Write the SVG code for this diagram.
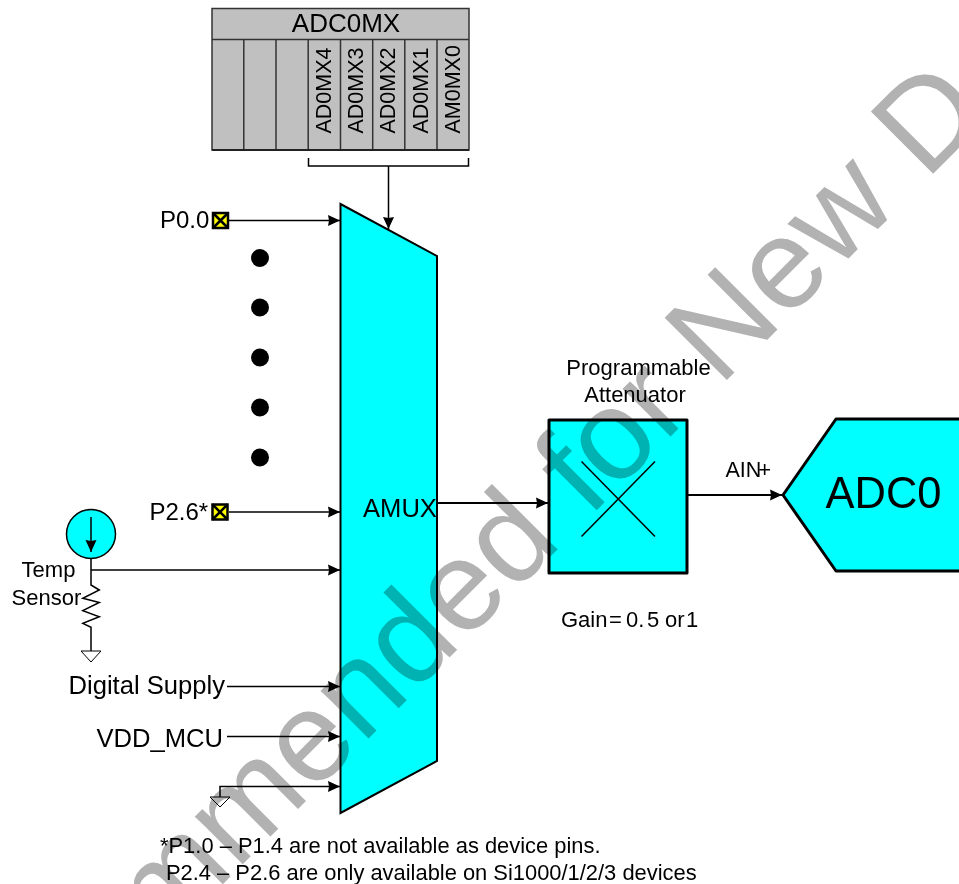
<svg xmlns="http://www.w3.org/2000/svg" width="959" height="884" viewBox="0 0 959 884">
<style>
text{font-family:"Liberation Sans",Arial,sans-serif;fill:#000}
.w{stroke:#000;stroke-width:1.5;fill:none}
.b{stroke:#000;stroke-width:3;fill:#0ff;stroke-linejoin:round}
.g{stroke:#000;stroke-width:1;fill:#fff}
.reg{stroke:#333;stroke-width:1.5;fill:#c0c0c0}
.f{font-size:21.500px}
.t{font-size:22px}
.pin{fill:#ff0;stroke:#000;stroke-width:2.500}
.pinx{stroke:#000;stroke-width:2.500}
</style>
<defs>
<marker id="a" markerUnits="userSpaceOnUse" markerWidth="13" markerHeight="13" refX="12" refY="6.500" orient="auto"><path d="M0 1L12 6.500L0 12L1 6.500Z" fill="#000"/></marker>
</defs>
<rect width="959" height="884" fill="#fff"/>
<g id="register">
<rect class="reg" x="212" y="8.500" width="257" height="141.500"/>
<path class="reg" d="M212 39.500H469M243.800 39.500V150M276 39.500V150M308.200 39.500V150M340.500 39.500V150M372.700 39.500V150M404.800 39.500V150M437 39.500V150"/>
<path d="M212 150H469" stroke="#222" stroke-width="2" fill="none"/>
<text x="346" y="32" font-size="26" text-anchor="middle">ADC0MX</text>
<text class="f" transform="translate(331 133.500) rotate(-90)">AD0MX4</text>
<text class="f" transform="translate(363.200 133.500) rotate(-90)">AD0MX3</text>
<text class="f" transform="translate(395.400 133.500) rotate(-90)">AD0MX2</text>
<text class="f" transform="translate(427.500 133.500) rotate(-90)">AD0MX1</text>
<text class="f" transform="translate(459.500 133.500) rotate(-90)">AM0MX0</text>
</g>
<g id="amux"><path d="M340.500 204L437 256V761L340.500 813Z" fill="#0ff" stroke="#000" stroke-width="2"/><text x="363" y="516.500" font-size="25.600">AMUX</text></g>
<g id="attenuator">
<rect class="b" x="549" y="420" width="138" height="153"/>
<path d="M581.500 461.500L655 536.500M655 461.500L581.500 536.500" stroke="#000" stroke-width="1.500" fill="none"/>
<text x="638.500" y="375" class="t" text-anchor="middle">Programmable</text>
<text x="635" y="401.500" class="t" text-anchor="middle">Attenuator</text>
<text y="626.500" class="t"><tspan x="561">Gain</tspan><tspan x="609">=</tspan><tspan x="626">0.</tspan><tspan x="647">5</tspan><tspan x="665">or</tspan><tspan x="686">1</tspan></text>
</g>
<g id="adc0"><path class="b" d="M783 495L836 419H965V571H836Z"/><text x="825.500" y="508" font-size="43.500">ADC0</text></g>
<g id="pin-p00"><text x="160" y="228" font-size="24">P0.0</text><rect class="pin" x="213" y="213" width="15" height="15"/><path class="pinx" d="M213 213L228 228M228 213L213 228"/></g>
<g id="pin-p26"><text x="149.500" y="519.500" font-size="24">P2.6*</text><rect class="pin" x="212.500" y="504.500" width="15" height="15"/><path class="pinx" d="M212.500 504.500L227.500 519.500M227.500 504.500L212.500 519.500"/></g>
<g id="dots" fill="#000"><circle cx="260" cy="258" r="9"/><circle cx="260" cy="307.500" r="9"/><circle cx="260" cy="357.500" r="9"/><circle cx="260" cy="407.500" r="9"/><circle cx="260" cy="457.500" r="9"/></g>
<g id="temp-sensor">
<circle cx="91" cy="534" r="24.500" fill="#0ff" stroke="#000" stroke-width="1.500"/>
<path class="w" d="M91 517V552" marker-end="url(#a)"/>
<path class="w" d="M91 558.500V585L99.300 590L82.800 598.300L99.300 602.500L82.800 610.700L99.300 616.700L82.800 623.300L91 627.300V651"/>
<path class="g" d="M81 651H101L91 662Z"/>
<text x="48.500" y="577" class="t" text-anchor="middle">Temp</text>
<text x="11.500" y="605" class="t">Sensor</text>
</g>
<g id="digital-supply"><text x="68.500" y="694" font-size="25.600">Digital Supply</text></g>
<g id="vdd-mcu"><text x="96.500" y="746.500" font-size="25.600">VDD_MCU</text></g>
<g id="ground"><path class="g" d="M210 797H230L220 807Z"/></g>
<g id="ain"><text x="725.500" y="476.500" font-size="21.500">AIN<tspan dx="-3" font-size="22">+</tspan></text></g>
<g id="note">
<text x="160" y="853" font-size="21.900">*P1.0 – P1.4 are not available as device pins.</text>
<text x="166" y="880" font-size="21.900">P2.4 – P2.6 are only available on Si1000/1/2/3 devices</text>
</g>
<g id="connectors">
<path class="w" d="M308.500 158V166H468.500V158M388.500 166V229" marker-end="url(#a)"/>
<path class="w" d="M229 220.500H340" marker-end="url(#a)"/>
<path class="w" d="M229 512H340" marker-end="url(#a)"/>
<path class="w" d="M91 570H340" marker-end="url(#a)"/>
<path class="w" d="M227 686.500H340" marker-end="url(#a)"/>
<path class="w" d="M227 736.500H340" marker-end="url(#a)"/>
<path class="w" d="M220 797V786.500H340" marker-end="url(#a)"/>
<path d="M437 503H548" fill="none" stroke="#000" stroke-width="2" marker-end="url(#a)"/>
<path d="M687 495H782" fill="none" stroke="#000" stroke-width="2" marker-end="url(#a)"/>
</g>
<g id="watermark" style="mix-blend-mode:multiply"><text transform="translate(161.200 945.800) rotate(-45)" font-size="128" style="fill:#b2b2b2">mmended for New D</text></g>
</svg>
